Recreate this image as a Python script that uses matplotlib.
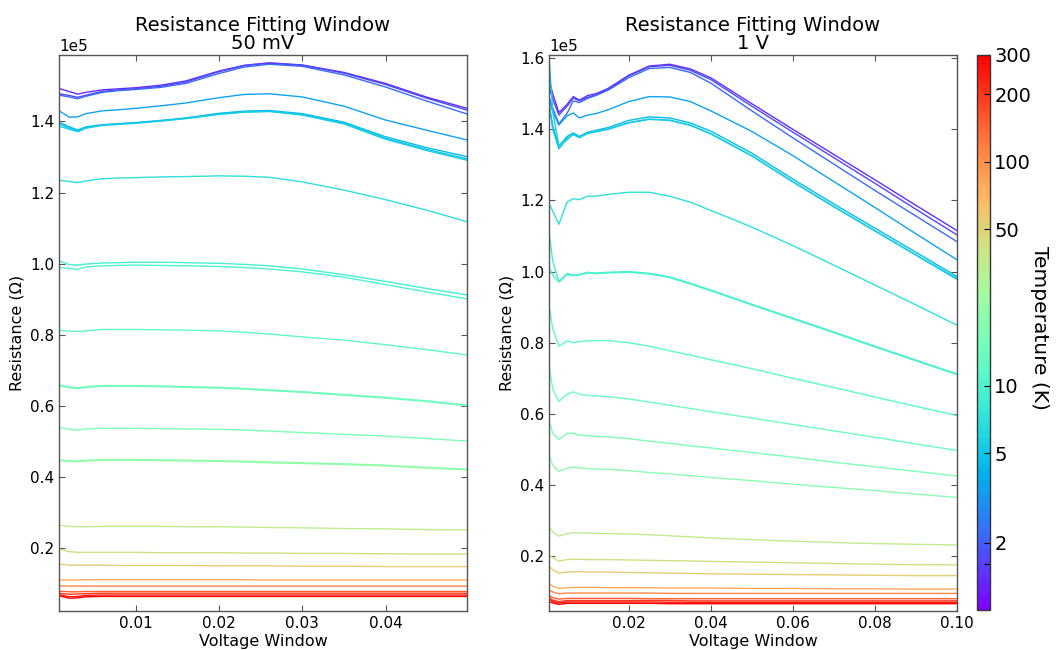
import matplotlib
matplotlib.use("Agg")
import matplotlib.pyplot as plt
import matplotlib.colors as mcolors
from matplotlib.ticker import MultipleLocator
import numpy as np

# ---- data (resistance in units of 1e5 Ohm) ----
# 50 mV panel
left_x = [0.00076, 0.002, 0.003, 0.004, 0.006, 0.008, 0.010, 0.013, 0.016,
          0.020, 0.023, 0.026, 0.030, 0.035, 0.040, 0.045, 0.0498]

l_1p4 = [1.493, 1.484, 1.477, 1.482, 1.489, 1.492, 1.495, 1.502, 1.514, 1.542, 1.558, 1.565, 1.559, 1.538, 1.507, 1.468, 1.437]
l_1p7 = [1.478, 1.473, 1.468, 1.474, 1.485, 1.489, 1.492, 1.499, 1.511, 1.540, 1.557, 1.564, 1.558, 1.536, 1.504, 1.465, 1.432]
l_2p2 = [1.474, 1.469, 1.464, 1.471, 1.482, 1.487, 1.490, 1.496, 1.507, 1.535, 1.553, 1.561, 1.555, 1.531, 1.497, 1.457, 1.421]
l_3p5 = [1.430, 1.412, 1.413, 1.422, 1.430, 1.433, 1.437, 1.444, 1.452, 1.467, 1.476, 1.478, 1.469, 1.443, 1.404, 1.375, 1.348]
l_4p5 = [1.398, 1.385, 1.376, 1.385, 1.391, 1.394, 1.397, 1.403, 1.410, 1.423, 1.429, 1.431, 1.422, 1.398, 1.357, 1.326, 1.301]
l_5 = [1.394, 1.381, 1.373, 1.383, 1.390, 1.393, 1.396, 1.402, 1.409, 1.421, 1.427, 1.429, 1.420, 1.395, 1.353, 1.321, 1.295]
l_5p5 = [1.387, 1.378, 1.371, 1.381, 1.389, 1.392, 1.395, 1.401, 1.408, 1.420, 1.426, 1.428, 1.418, 1.393, 1.350, 1.318, 1.291]
l_7 = [1.235, 1.231, 1.228, 1.233, 1.239, 1.241, 1.242, 1.244, 1.245, 1.247, 1.246, 1.243, 1.230, 1.207, 1.180, 1.150, 1.118]
l_9 = [1.008, 0.997, 0.996, 0.999, 1.002, 1.003, 1.004, 1.004, 1.003, 1.001, 0.998, 0.994, 0.985, 0.969, 0.950, 0.930, 0.912]
l_10 = [0.990, 0.986, 0.984, 0.991, 0.994, 0.995, 0.996, 0.995, 0.994, 0.992, 0.989, 0.985, 0.977, 0.962, 0.941, 0.920, 0.901]
l_12 = [0.813, 0.810, 0.809, 0.811, 0.815, 0.815, 0.815, 0.814, 0.813, 0.811, 0.807, 0.802, 0.794, 0.785, 0.772, 0.758, 0.743]
l_14 = [0.659, 0.653, 0.651, 0.654, 0.657, 0.657, 0.657, 0.656, 0.654, 0.652, 0.649, 0.645, 0.640, 0.632, 0.624, 0.614, 0.602]
l_15 = [0.657, 0.651, 0.649, 0.652, 0.655, 0.655, 0.655, 0.654, 0.652, 0.650, 0.647, 0.643, 0.638, 0.630, 0.622, 0.612, 0.600]
l_17 = [0.540, 0.534, 0.532, 0.535, 0.537, 0.537, 0.537, 0.536, 0.535, 0.534, 0.532, 0.529, 0.525, 0.520, 0.515, 0.508, 0.501]
l_20 = [0.448, 0.446, 0.445, 0.447, 0.449, 0.449, 0.449, 0.448, 0.447, 0.446, 0.444, 0.442, 0.440, 0.437, 0.433, 0.427, 0.422]
l_22 = [0.446, 0.444, 0.443, 0.445, 0.447, 0.447, 0.447, 0.446, 0.445, 0.444, 0.442, 0.440, 0.438, 0.435, 0.431, 0.425, 0.420]
l_35 = [0.265, 0.261, 0.260, 0.260, 0.261, 0.261, 0.261, 0.261, 0.260, 0.260, 0.259, 0.258, 0.257, 0.255, 0.254, 0.252, 0.251]
l_45 = [0.197, 0.190, 0.188, 0.188, 0.188, 0.188, 0.188, 0.187, 0.187, 0.187, 0.186, 0.186, 0.185, 0.185, 0.184, 0.183, 0.183]
l_55 = [0.155, 0.152, 0.152, 0.152, 0.152, 0.151, 0.151, 0.151, 0.151, 0.150, 0.150, 0.150, 0.149, 0.149, 0.148, 0.148, 0.148]
l_80 = [0.111, 0.110, 0.110, 0.111, 0.111, 0.111, 0.111, 0.111, 0.111, 0.111, 0.111, 0.110, 0.110, 0.110, 0.110, 0.110, 0.110]
l_110 = [0.094, 0.093, 0.093, 0.093, 0.093, 0.093, 0.093, 0.093, 0.093, 0.093, 0.093, 0.093, 0.093, 0.093, 0.093, 0.093, 0.093]
l_150 = [0.079, 0.077, 0.077, 0.078, 0.078, 0.078, 0.078, 0.078, 0.078, 0.078, 0.078, 0.078, 0.078, 0.078, 0.078, 0.078, 0.078]
l_200 = [0.073, 0.070, 0.071, 0.072, 0.073, 0.073, 0.073, 0.073, 0.073, 0.073, 0.073, 0.073, 0.073, 0.073, 0.073, 0.073, 0.073]
l_250 = [0.069, 0.063, 0.064, 0.067, 0.068, 0.068, 0.068, 0.068, 0.068, 0.068, 0.068, 0.068, 0.068, 0.068, 0.068, 0.068, 0.068]
l_300 = [0.066, 0.059, 0.060, 0.063, 0.064, 0.064, 0.064, 0.064, 0.064, 0.064, 0.064, 0.064, 0.064, 0.064, 0.064, 0.064, 0.064]

# 1 V panel
right_x = [0.0006, 0.0015, 0.003, 0.005, 0.0065, 0.008, 0.010, 0.012, 0.015, 0.020,
           0.025, 0.030, 0.035, 0.040, 0.050, 0.060, 0.070, 0.080, 0.090, 0.100]

r_1p4 = [1.539, 1.500, 1.447, 1.470, 1.492, 1.482, 1.495, 1.500, 1.515, 1.552, 1.578, 1.583, 1.570, 1.545, 1.472, 1.400, 1.329, 1.258, 1.186, 1.115]
r_1p7 = [1.520, 1.485, 1.440, 1.465, 1.488, 1.480, 1.490, 1.497, 1.512, 1.550, 1.576, 1.580, 1.566, 1.540, 1.465, 1.392, 1.320, 1.248, 1.175, 1.103]
r_2p2 = [1.490, 1.460, 1.415, 1.445, 1.480, 1.475, 1.487, 1.495, 1.510, 1.545, 1.571, 1.574, 1.560, 1.530, 1.452, 1.376, 1.302, 1.228, 1.156, 1.084]
r_3p5 = [1.488, 1.450, 1.412, 1.438, 1.446, 1.432, 1.440, 1.444, 1.455, 1.478, 1.492, 1.491, 1.478, 1.452, 1.394, 1.326, 1.253, 1.180, 1.106, 1.033]
r_4p5 = [1.470, 1.410, 1.352, 1.380, 1.390, 1.380, 1.392, 1.397, 1.405, 1.425, 1.435, 1.432, 1.418, 1.395, 1.333, 1.260, 1.190, 1.122, 1.054, 0.986]
r_5 = [1.480, 1.400, 1.345, 1.375, 1.385, 1.378, 1.388, 1.393, 1.400, 1.418, 1.428, 1.425, 1.411, 1.387, 1.325, 1.252, 1.182, 1.114, 1.046, 0.978]
r_5p5 = [1.605, 1.450, 1.355, 1.370, 1.387, 1.376, 1.390, 1.394, 1.401, 1.419, 1.429, 1.426, 1.412, 1.388, 1.326, 1.253, 1.183, 1.115, 1.047, 0.981]
r_7 = [1.192, 1.170, 1.133, 1.195, 1.205, 1.202, 1.212, 1.212, 1.217, 1.223, 1.223, 1.212, 1.195, 1.172, 1.125, 1.073, 1.018, 0.962, 0.906, 0.849]
r_9 = [1.112, 1.030, 0.972, 0.995, 0.990, 0.992, 0.998, 0.996, 0.998, 1.000, 0.995, 0.985, 0.967, 0.948, 0.908, 0.869, 0.830, 0.790, 0.751, 0.712]
r_10 = [1.014, 0.990, 0.970, 0.992, 0.988, 0.990, 0.996, 0.994, 0.996, 0.998, 0.993, 0.983, 0.965, 0.946, 0.906, 0.867, 0.828, 0.788, 0.749, 0.710]
r_12 = [0.905, 0.840, 0.790, 0.805, 0.800, 0.803, 0.805, 0.806, 0.806, 0.800, 0.790, 0.777, 0.765, 0.752, 0.727, 0.700, 0.674, 0.647, 0.621, 0.595]
r_14 = [0.737, 0.670, 0.635, 0.655, 0.662, 0.655, 0.652, 0.650, 0.648, 0.642, 0.633, 0.624, 0.615, 0.606, 0.588, 0.570, 0.552, 0.534, 0.515, 0.497]
r_17 = [0.582, 0.545, 0.528, 0.545, 0.545, 0.540, 0.538, 0.537, 0.535, 0.530, 0.523, 0.517, 0.510, 0.504, 0.491, 0.478, 0.464, 0.451, 0.438, 0.425]
r_20 = [0.485, 0.455, 0.438, 0.447, 0.450, 0.448, 0.446, 0.445, 0.444, 0.440, 0.435, 0.431, 0.426, 0.421, 0.412, 0.402, 0.393, 0.384, 0.374, 0.365]
r_35 = [0.283, 0.268, 0.256, 0.263, 0.266, 0.265, 0.265, 0.264, 0.263, 0.262, 0.260, 0.257, 0.254, 0.251, 0.246, 0.242, 0.238, 0.235, 0.233, 0.231]
r_45 = [0.203, 0.195, 0.186, 0.190, 0.191, 0.191, 0.190, 0.190, 0.190, 0.189, 0.188, 0.187, 0.186, 0.185, 0.183, 0.181, 0.179, 0.177, 0.176, 0.175]
r_55 = [0.172, 0.162, 0.152, 0.155, 0.156, 0.156, 0.155, 0.155, 0.155, 0.154, 0.153, 0.152, 0.151, 0.150, 0.149, 0.148, 0.147, 0.146, 0.145, 0.145]
r_80 = [0.122, 0.115, 0.109, 0.111, 0.112, 0.112, 0.112, 0.112, 0.111, 0.111, 0.111, 0.110, 0.110, 0.110, 0.109, 0.109, 0.108, 0.108, 0.107, 0.107]
r_110 = [0.105, 0.099, 0.094, 0.096, 0.096, 0.096, 0.096, 0.096, 0.096, 0.096, 0.096, 0.095, 0.095, 0.095, 0.095, 0.095, 0.095, 0.095, 0.095, 0.095]
r_150 = [0.090, 0.083, 0.079, 0.081, 0.081, 0.081, 0.081, 0.081, 0.081, 0.081, 0.080, 0.080, 0.080, 0.080, 0.080, 0.080, 0.080, 0.080, 0.080, 0.080]
r_200 = [0.084, 0.076, 0.072, 0.075, 0.075, 0.075, 0.075, 0.075, 0.075, 0.075, 0.075, 0.075, 0.074, 0.074, 0.074, 0.074, 0.074, 0.074, 0.074, 0.074]
r_250 = [0.079, 0.072, 0.068, 0.071, 0.071, 0.071, 0.071, 0.071, 0.071, 0.071, 0.071, 0.070, 0.070, 0.070, 0.070, 0.070, 0.070, 0.070, 0.070, 0.070]
r_300 = [0.072, 0.068, 0.064, 0.067, 0.067, 0.067, 0.067, 0.067, 0.067, 0.067, 0.067, 0.066, 0.066, 0.066, 0.066, 0.066, 0.066, 0.066, 0.066, 0.066]

left_curves = [(1.4, l_1p4), (1.7, l_1p7), (2.2, l_2p2), (3.5, l_3p5), (4.5, l_4p5), (5, l_5),
               (5.5, l_5p5), (7, l_7), (9, l_9), (10, l_10), (12, l_12), (14, l_14),
               (15, l_15), (17, l_17), (20, l_20), (22, l_22), (35, l_35), (45, l_45),
               (55, l_55), (80, l_80), (110, l_110), (150, l_150), (200, l_200),
               (250, l_250), (300, l_300)]
right_curves = [(1.4, r_1p4), (1.7, r_1p7), (2.2, r_2p2), (3.5, r_3p5), (4.5, r_4p5), (5, r_5),
                (5.5, r_5p5), (7, r_7), (9, r_9), (10, r_10), (12, r_12), (14, r_14),
                (17, r_17), (20, r_20), (35, r_35), (45, r_45), (55, r_55), (80, r_80),
                (110, r_110), (150, r_150), (200, r_200), (250, r_250), (300, r_300)]

cbar_ticks = [1.6, 2, 5, 10, 50, 100, 200, 300]
cbar_labels = ['', '2', '5', '10', '50', '100', '200', '300']

plt.rcParams['font.family'] = 'DejaVu Sans'
frame_col = '#555555'

fig = plt.figure(figsize=(10.56, 6.5), dpi=100)
fig.set_facecolor('white')

norm = mcolors.LogNorm(vmin=1.0, vmax=300)
cmap = plt.get_cmap('rainbow')


def draw_panel(ax, xs, curves, subtitle, xlim, ylim, xstep):
    for temp, vals in curves:
        ax.plot(xs, np.array(vals) * 1e5, color=cmap(norm(temp)), linewidth=1.0)
    ax.set_xlim(*xlim)
    ax.set_ylim(ylim[0] * 1e5, ylim[1] * 1e5)
    ax.xaxis.set_major_locator(MultipleLocator(xstep))
    ax.yaxis.set_major_locator(MultipleLocator(0.2e5))
    ax.ticklabel_format(axis='y', style='sci', scilimits=(-3, 3))
    ax.yaxis.get_offset_text().set_fontsize(11)
    ax.tick_params(direction='in', top=True, right=True, length=4, width=0.8,
                   color=frame_col, labelsize=11)
    for sp in ax.spines.values():
        sp.set_color(frame_col)
        sp.set_linewidth(1.0)
    ax.set_title('Resistance Fitting Window\n' + subtitle, fontsize=14, linespacing=0.95, pad=4)
    ax.set_xlabel('Voltage Window', fontsize=11.5, labelpad=2)
    ax.set_ylabel('Resistance (\u03a9)', fontsize=11.5, labelpad=4)


ax1 = fig.add_axes([0.0559, 0.06, 0.3864, 0.8554])
draw_panel(ax1, left_x, left_curves, '50 mV', (left_x[0], left_x[-1]), (0.023, 1.587), 0.01)

ax2 = fig.add_axes([0.5199, 0.06, 0.3864, 0.8554])
draw_panel(ax2, right_x, right_curves, '1 V', (right_x[0], right_x[-1]), (0.0455, 1.609), 0.02)

cax = fig.add_axes([0.9252, 0.0615, 0.0123, 0.854])
sm = plt.cm.ScalarMappable(norm=norm, cmap=cmap)
cbar = fig.colorbar(sm, cax=cax)
cbar.set_ticks(cbar_ticks)
cbar.set_ticklabels(cbar_labels)
cbar.ax.minorticks_off()
cbar.ax.tick_params(direction='in', length=4, width=0.8, labelsize=14, pad=3)
cbar.outline.set_edgecolor('#333333')
cbar.outline.set_linewidth(1.0)

# colorbar label placed by hand so it stays inside the figure
fig.text(1040 / 1056, 0.496, 'Temperature (K)', fontsize=14.5, rotation=270,
         ha='center', va='center')

fig.savefig('out.png', dpi=100, facecolor='white')
